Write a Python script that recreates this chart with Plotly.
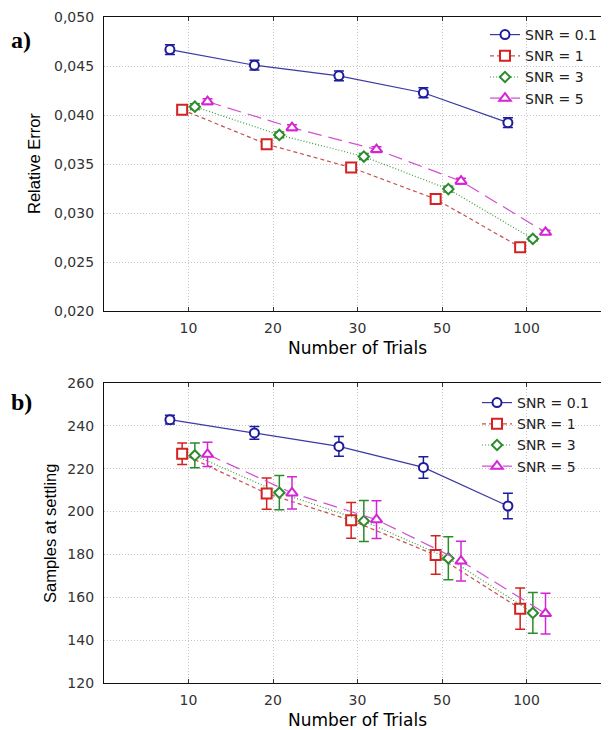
import plotly.graph_objects as go

categories = ["10", "20", "30", "50", "100"]
series_names = ["SNR = 0.1", "SNR = 1", "SNR = 3", "SNR = 5"]

# Panel a: Relative Error
err_snr01 = [0.04668, 0.04508, 0.04400, 0.04227, 0.03922]
err_snr1 = [0.04054, 0.03702, 0.03464, 0.03142, 0.02651]
err_snr3 = [0.04085, 0.03797, 0.03576, 0.03244, 0.02736]
err_snr5 = [0.04136, 0.03871, 0.03647, 0.03325, 0.02803]
err_snr01_e = [0.0005, 0.0005, 0.0005, 0.0005, 0.0005]
err_snr1_e = [0.0001, 0.0001, 0.0001, 0.0001, 0.0001]
err_snr3_e = [0.0003, 0.0003, 0.0003, 0.0003, 0.0002]
err_snr5_e = [0.0003, 0.0003, 0.0003, 0.0003, 0.0002]

# Panel b: Samples at settling
smp_snr01 = [242.9, 236.7, 230.4, 220.6, 202.6]
smp_snr1 = [227.0, 208.4, 195.9, 179.7, 154.7]
smp_snr3 = [226.2, 208.8, 195.6, 178.2, 152.7]
smp_snr5 = [226.7, 208.7, 196.2, 176.9, 152.4]
smp_snr01_e = [2.0, 3.0, 4.6, 5.0, 6.0]
smp_snr1_e = [5.0, 7.3, 8.3, 9.0, 9.6]
smp_snr3_e = [5.8, 8.0, 9.6, 10.0, 9.5]
smp_snr5_e = [5.7, 7.5, 8.8, 9.3, 9.5]

offsets = [-0.22, -0.075, 0.075, 0.225]
colors = ["#1c1c9c", "#d42222", "#2a8c2a", "#d424d4"]
line_colors = ["#3a3aa0", "#c85050", "#3a9a3a", "#d050d0"]
dashes = ["solid", "4px,3px", "1px,2px", "14px,7px"]
symbols = ["circle", "square", "diamond", "triangle-up"]
sizes = [9, 10, 8, 10]

# The page body has an 8px margin; the figure fills the rest of the window.
WIN_W, WIN_H, BODY = 609, 730, 8
W, H = WIN_W - BODY, WIN_H - BODY
FONT = "DejaVu Sans"
VFONT = "Liberation Sans"

def px_x(p):
    return (p - BODY) / W

def px_y(p):
    return 1 - (p - BODY) / H

fig = go.Figure()

panels = [
    ([err_snr01, err_snr1, err_snr3, err_snr5],
     [err_snr01_e, err_snr1_e, err_snr3_e, err_snr5_e], "x", "y", "legend"),
    ([smp_snr01, smp_snr1, smp_snr3, smp_snr5],
     [smp_snr01_e, smp_snr1_e, smp_snr3_e, smp_snr5_e], "x2", "y2", "legend2"),
]

for vals_list, errs_list, xa, ya, lg in panels:
    for i, (vals, errs) in enumerate(zip(vals_list, errs_list)):
        xs = [k + offsets[i] for k in range(len(categories))]
        fig.add_trace(go.Scatter(
            x=xs, y=vals, name=series_names[i], mode="lines+markers",
            xaxis=xa, yaxis=ya, legend=lg,
            line=dict(color=line_colors[i], width=1.2, dash=dashes[i]),
            marker=dict(symbol=symbols[i], size=sizes[i], color="white",
                        line=dict(color=colors[i], width=2)),
            error_y=dict(type="data", array=errs, visible=True,
                         color=colors[i], thickness=1.5, width=5),
        ))

left_px = 104
cat_step = 84.5
xrange = [-1, -1 + (WIN_W - left_px) / cat_step]
xcommon = dict(range=xrange, tickmode="array", tickvals=list(range(len(categories))),
               ticktext=categories, showgrid=True, griddash="1px,2px", gridcolor="#c4c4c4",
               gridwidth=1, showline=True, linecolor="#111", linewidth=1.2, mirror="ticks",
               ticks="inside", ticklen=4, tickcolor="#333", zeroline=False, automargin=False,
               tickfont=dict(family=FONT, size=14, color="#333"), ticklabelstandoff=4)
ycommon = dict(showgrid=True, griddash="1px,2px", gridcolor="#c4c4c4", gridwidth=1,
               showline=True, linecolor="#111", linewidth=1.2, mirror=False, automargin=False,
               zeroline=False, ticks="", tickfont=dict(family=FONT, size=14, color="#333"),
               ticklabelstandoff=6)

fig.update_layout(
    width=W, height=H, margin=dict(l=0, r=0, t=0, b=0, autoexpand=False),
    paper_bgcolor="white", plot_bgcolor="white", separators=",.",
    showlegend=True,
    xaxis=dict(domain=[px_x(left_px), 1.0], anchor="y", **xcommon),
    yaxis=dict(domain=[px_y(311), px_y(17)], anchor="x", range=[0.020, 0.050],
               dtick=0.005, tickformat=".3f", **ycommon),
    xaxis2=dict(domain=[px_x(left_px), 1.0], anchor="y2", **xcommon),
    yaxis2=dict(domain=[px_y(683), px_y(383)], anchor="x2", range=[120, 260],
                dtick=20, tickformat="d", **ycommon),
    legend=dict(x=px_x(485), y=px_y(19), xanchor="left", yanchor="top",
                bgcolor="rgba(255,255,255,0)", font=dict(family=FONT, size=14, color="#222"),
                tracegroupgap=0, itemwidth=30),
    legend2=dict(x=px_x(477), y=px_y(387), xanchor="left", yanchor="top",
                 bgcolor="rgba(255,255,255,0)", font=dict(family=FONT, size=14, color="#222"),
                 tracegroupgap=0, itemwidth=30),
)

annots = [
    dict(text="Relative Error", x=px_x(34), y=px_y(164), textangle=-90, fam=VFONT, size=16.5),
    dict(text="Samples at settling", x=px_x(50), y=px_y(533), textangle=-90, fam=VFONT, size=16.5),
    dict(text="Number of Trials", x=px_x(357), y=px_y(348), textangle=0, fam=FONT, size=17),
    dict(text="Number of Trials", x=px_x(357), y=px_y(720), textangle=0, fam=FONT, size=17),
]
for a in annots:
    fig.add_annotation(xref="paper", yref="paper", x=a["x"], y=a["y"], text=a["text"],
                       textangle=a["textangle"], showarrow=False, xanchor="center",
                       yanchor="middle", font=dict(family=a["fam"], size=a["size"], color="black"))

for lbl, yy in [("a)", 40), ("b)", 402)]:
    fig.add_annotation(xref="paper", yref="paper", x=px_x(21), y=px_y(yy), text="<b>" + lbl + "</b>",
                       showarrow=False, xanchor="center", yanchor="middle",
                       font=dict(family="Liberation Serif", size=24, color="black"))

fig.write_html("out.html")
